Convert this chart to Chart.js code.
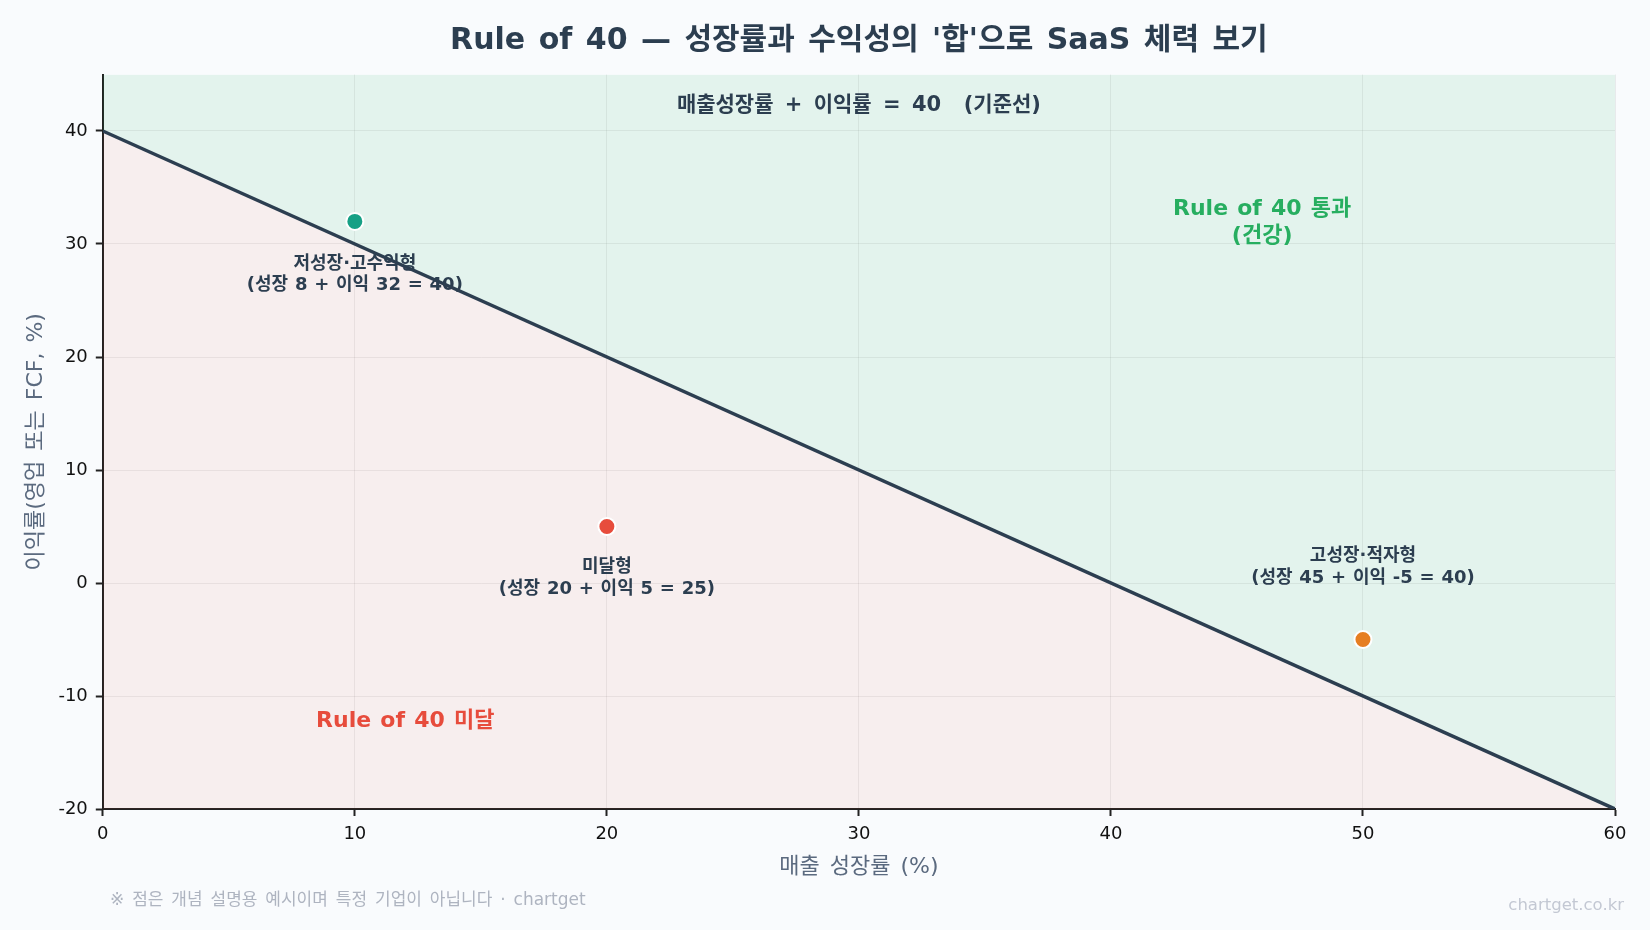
<!DOCTYPE html>
<html lang="ko">
<head>
<meta charset="utf-8">
<title>Rule of 40</title>
<script src="https://cdn.jsdelivr.net/npm/chart.js@4/dist/chart.umd.min.js"></script>
<style>
  html, body { margin: 0; padding: 0; background: #f9fbfd; }
  canvas { display: block; }
</style>
</head>
<body>
<canvas id="myChart" width="1650" height="930"></canvas>
<script>
var FONT = "'DejaVu Sans', 'Noto Sans CJK KR', sans-serif";

// 기준선: 성장률 + 이익률 = 40
var lineGrowth = [0, 60];
var lineMargin = [40, -20];

// 예시 유형 (개념 설명용)
var pointGrowth = [10, 20, 50];
var pointMargin = [32, 5, -5];
var pointColors = ['#16a085', '#e74c3c', '#e67e22'];
var pointTitles = ['저성장·고수익형', '미달형', '고성장·적자형'];
var pointSubs = ['(성장 8 + 이익 32 = 40)', '(성장 20 + 이익 5 = 25)', '(성장 45 + 이익 -5 = 40)'];

var xRange = [0, 60];
var yRange = [-20, 45];
var tickStep = 10;

var linePoints = lineGrowth.map(function (g, i) { return { x: g, y: lineMargin[i] }; });
var scatterPoints = pointGrowth.map(function (g, i) { return { x: g, y: pointMargin[i] }; });

// 라벨, 영역 텍스트, 하단 주석
var textPlugin = {
  id: 'texts',
  beforeDraw: function (chart) {
    // 제목과 축 제목은 단어 간격을 조금 넓게
    chart.ctx.wordSpacing = '3px';
  },
  beforeDatasetsDraw: function (chart) {
    var ctx = chart.ctx;
    var xs = chart.scales.x, ys = chart.scales.y;
    ctx.save();
    ctx.textAlign = 'center';
    ctx.textBaseline = 'middle';

    // 점 라벨 (아래, 아래, 위)
    var offs = [[43, 64], [41, 63], [-83, -61]];
    ctx.wordSpacing = '0.5px';
    ctx.fillStyle = '#2c3e50';
    ctx.font = 'bold 18px ' + FONT;
    for (var i = 0; i < pointTitles.length; i++) {
      var px = xs.getPixelForValue(pointGrowth[i]);
      var py = ys.getPixelForValue(pointMargin[i]);
      ctx.fillText(pointTitles[i], px, py + offs[i][0]);
      ctx.fillText(pointSubs[i], px, py + offs[i][1]);
    }

    // 기준선 설명
    ctx.wordSpacing = '4px';
    ctx.font = 'bold 21px ' + FONT;
    ctx.fillText('매출성장률 + 이익률 = 40  (기준선)', xs.getPixelForValue(30), chart.chartArea.top + 31);

    // 영역 이름
    ctx.wordSpacing = '1.5px';
    ctx.font = 'bold 22px ' + FONT;
    ctx.fillStyle = '#27ae60';
    var gx = xs.getPixelForValue(46), gy = ys.getPixelForValue(33.1);
    ctx.fillText('Rule of 40 통과', gx, gy);
    ctx.fillText('(건강)', gx, gy + 27);
    ctx.fillStyle = '#e74c3c';
    ctx.fillText('Rule of 40 미달', xs.getPixelForValue(12), ys.getPixelForValue(-12.2));
    ctx.restore();
  },
  afterDraw: function (chart) {
    var ctx = chart.ctx;
    ctx.save();
    ctx.textBaseline = 'middle';
    ctx.wordSpacing = '2.5px';
    ctx.font = '17px ' + FONT;
    ctx.fillStyle = '#aeb4c0';
    ctx.textAlign = 'left';
    ctx.fillText('※ 점은 개념 설명용 예시이며 특정 기업이 아닙니다 · chartget', 110, 901);
    ctx.wordSpacing = '0px';
    ctx.font = '16.5px ' + FONT;
    ctx.fillStyle = '#c3c8d3';
    ctx.textAlign = 'right';
    ctx.fillText('chartget.co.kr', 1624, 906);
    ctx.restore();
  }
};

var ctx = document.getElementById('myChart').getContext('2d');
var myChart = new Chart(ctx, {
  type: 'scatter',
  data: {
    datasets: [
      {
        // 통과 영역 (선 위)
        type: 'line',
        data: linePoints,
        borderWidth: 0,
        pointRadius: 0,
        fill: 'end',
        backgroundColor: 'rgba(39,174,96,0.1)',
        order: 3
      },
      {
        // 미달 영역 + 기준선
        type: 'line',
        data: linePoints,
        borderColor: '#2c3e50',
        borderWidth: 3.5,
        pointRadius: 0,
        fill: 'start',
        backgroundColor: 'rgba(231,76,60,0.075)',
        order: 2
      },
      {
        data: scatterPoints,
        backgroundColor: pointColors,
        borderColor: '#ffffff',
        borderWidth: 2,
        pointRadius: 8.5,
        order: 1
      }
    ]
  },
  options: {
    responsive: false,
    animation: false,
    layout: { padding: { left: 10, right: 35, top: 0, bottom: 50 } },
    plugins: {
      legend: { display: false },
      tooltip: { enabled: false },
      filler: { drawTime: 'beforeDatasetsDraw' },
      title: {
        display: true,
        fullSize: false,
        text: "Rule of 40 — 성장률과 수익성의 '합'으로 SaaS 체력 보기",
        color: '#2c3e50',
        font: { family: FONT, size: 30, weight: 'bold' },
        padding: { top: 23, bottom: 15.5 }
      }
    },
    scales: {
      x: {
        type: 'linear',
        min: xRange[0],
        max: xRange[1],
        border: { color: '#222222', width: 2 },
        grid: { color: 'rgba(0,0,0,0.065)', tickColor: '#222222', tickLength: 7, tickWidth: 2 },
        ticks: { stepSize: tickStep, color: '#111111', padding: 8, font: { family: FONT, size: 18 } },
        title: {
          display: true,
          text: '매출 성장률 (%)',
          color: '#5b6a7f',
          font: { family: FONT, size: 22 },
          padding: { top: 0, bottom: 0 }
        }
      },
      y: {
        type: 'linear',
        min: yRange[0],
        max: yRange[1],
        border: { color: '#222222', width: 2 },
        grid: { color: 'rgba(0,0,0,0.065)', tickColor: '#222222', tickLength: 7, tickWidth: 2 },
        ticks: { stepSize: tickStep, includeBounds: false, color: '#111111', padding: 8, font: { family: FONT, size: 18 } },
        title: {
          display: true,
          text: '이익률(영업 또는 FCF, %)',
          color: '#5b6a7f',
          font: { family: FONT, size: 22 },
          padding: { top: 13, bottom: 1 }
        }
      }
    }
  },
  plugins: [textPlugin]
});
</script>
</body>
</html>
